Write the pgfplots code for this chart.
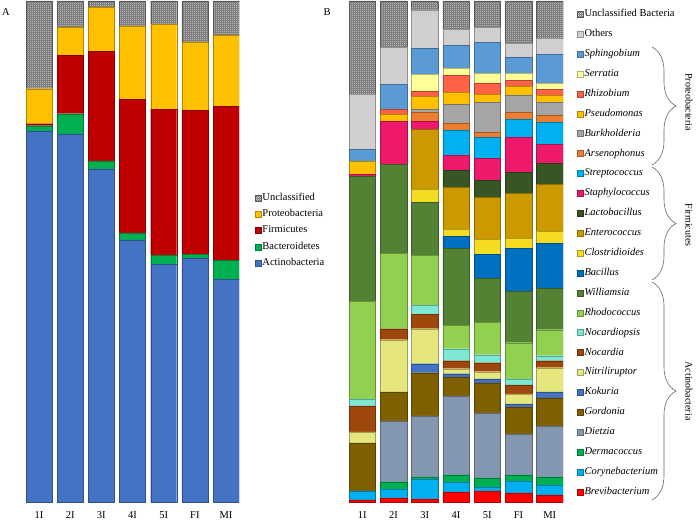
\documentclass[border=0pt]{standalone}
\usepackage{fontspec}
\setmainfont{Liberation Serif}
\usepackage{pgfplots}
\pgfplotsset{compat=1.18}
\usepackage{pgfplotstable}
\usetikzlibrary{patterns,decorations.pathreplacing}

% fine checker for the "unclassified" segments
\pgfdeclarepatternformonly{finecheck}{\pgfpointorigin}{\pgfqpoint{2pt}{2pt}}{\pgfqpoint{2pt}{2pt}}{%
  \pgfpathrectangle{\pgfpointorigin}{\pgfqpoint{1pt}{1pt}}%
  \pgfpathrectangle{\pgfqpoint{1pt}{1pt}}{\pgfqpoint{1pt}{1pt}}%
  \pgfusepath{fill}}

% phylum colours
\definecolor{cAct}{HTML}{4472C4}
\definecolor{cBac}{HTML}{00B050}
\definecolor{cFir}{HTML}{C00000}
\definecolor{cPro}{HTML}{FFC000}
% genus colours
\definecolor{cBrev}{HTML}{FF0000}
\definecolor{cCory}{HTML}{00B0F0}
\definecolor{cDerm}{HTML}{00B050}
\definecolor{cDiet}{HTML}{8497B0}
\definecolor{cGord}{HTML}{7F6000}
\definecolor{cKoku}{HTML}{4472C4}
\definecolor{cNitr}{HTML}{E5E67B}
\definecolor{cNocd}{HTML}{9E480E}
\definecolor{cNocp}{HTML}{7EE8D5}
\definecolor{cRhod}{HTML}{92D050}
\definecolor{cWill}{HTML}{548235}
\definecolor{cBaci}{HTML}{0070C0}
\definecolor{cClos}{HTML}{F4DC22}
\definecolor{cEnte}{HTML}{CC9900}
\definecolor{cLact}{HTML}{375623}
\definecolor{cStap}{HTML}{ED1A6B}
\definecolor{cStrp}{HTML}{00B0F0}
\definecolor{cArse}{HTML}{ED7D31}
\definecolor{cBurk}{HTML}{A5A5A5}
\definecolor{cPseu}{HTML}{FFC000}
\definecolor{cRhiz}{HTML}{FF6347}
\definecolor{cSerr}{HTML}{FFFF99}
\definecolor{cSphi}{HTML}{5B9BD5}
\definecolor{cOthe}{HTML}{D0CECE}

\pgfplotstableread{
x act bac fir pro unc
0 74.1 1.0 0.4 7.0 17.5
1 73.5 4.0 11.6 5.6 5.3
2 66.5 1.6 21.8 8.8 1.3
3 52.3 1.4 26.7 14.6 5.0
4 47.5 1.8 29.1 17.0 4.6
5 48.7 0.8 28.7 13.6 8.2
6 44.5 3.8 30.7 14.2 6.8
}\phylum

\pgfplotstableread{
x brev cory derm diet gord koku nitr nocd nocp rhod will baci clos ente lact stap strp arse burk pseu rhiz serr sphi othe uncl
0 0.4 1.8 0   0    9.6 0   2.2  5.2 1.4 19.4 25.0 0   0   0    0   0.4 0   0   0   2.6 0   0   2.4 11.0 18.6
1 0.8 1.8 1.4 12.2 5.8 0   10.4 2.2 0   15.0 17.8 0   0   0    0   8.6 0   0   0   1.4 1.0 0   5.0 7.4  9.2
2 0.6 4.0 0.4 12.2 8.6 1.8 7.0  2.8 1.8 10.0 10.6 0   2.6 12.0 0   1.6 0   1.8 0.6 2.6 1.0 3.4 5.2 7.6  1.8
3 2.0 2.0 1.4 15.8 3.8 0.6 1.0  1.6 2.4 4.6  15.4 2.4 1.4 8.4  3.4 3.0 5.0 1.4 3.8 2.4 3.4 1.4 4.6 3.2  5.6
4 2.2 0.8 1.8 13.0 6.0 0.8 1.4  1.8 1.6 6.4  8.8  4.8 3.0 8.4  3.4 4.4 4.2 1.0 6.0 1.6 2.2 2.0 6.2 3.0  5.2
5 1.8 2.4 1.2 8.2  5.4 0.6 2.0  1.8 1.2 7.2  10.2 8.6 2.0 9.0  4.2 7.0 3.6 1.4 3.4 1.8 1.2 1.4 3.2 2.8  8.4
6 1.4 2.0 1.6 10.2 5.6 1.2 4.8  1.4 1.0 5.2  8.2  9.0 2.4 9.4  4.2 3.8 4.4 1.4 2.6 1.4 1.2 1.2 5.8 3.2  7.4
}\genus

\pgfplotsset{
  stackbars/.style={
    ybar stacked, scale only axis, height=501pt,
    ymin=0, ymax=100, hide y axis,
    axis x line*=bottom, x axis line style={draw=none},
    xtick={0,...,6}, xticklabels={1I,2I,3I,4I,5I,FI,MI},
    major tick length=0pt, xticklabel style={yshift=-6pt},
    reverse legend, legend cell align=left,
    legend image code/.code={\draw[##1, line width=0.3pt] (0pt,-3pt) rectangle (6pt,3pt);},
  },
  unclass/.style={fill=black!55, draw=black!65, line width=0.3pt,
    postaction={pattern=finecheck, pattern color=black!15}},
}
\newcommand{\seg}[3]{\addplot[fill=#1, draw=#1!70!black, line width=0.3pt] table[x=x,y=#2]{\genus}; \addlegendentry{#3}}

\begin{document}
\begin{tikzpicture}[font=\fontsize{10.5}{12}\selectfont]
\useasboundingbox (0,0) rectangle (696pt,520pt);

% panel A: phyla
\begin{axis}[stackbars, at={(26pt,18pt)}, anchor=south west, width=213pt,
  xmin=-0.417, xmax=6.417, bar width=26pt,
  legend style={at={(1.075,0.542)}, anchor=west, draw=none, fill=none, inner sep=0pt,
    row sep=5.3pt, nodes={inner sep=1pt, text height=7pt, text depth=2pt}}]
\addplot[fill=cAct, draw=cAct!70!black, line width=0.3pt] table[x=x,y=act]{\phylum};
\addlegendentry{Actinobacteria}
\addplot[fill=cBac, draw=cBac!70!black, line width=0.3pt] table[x=x,y=bac]{\phylum};
\addlegendentry{Bacteroidetes}
\addplot[fill=cFir, draw=cFir!70!black, line width=0.3pt] table[x=x,y=fir]{\phylum};
\addlegendentry{Firmicutes}
\addplot[fill=cPro, draw=cPro!70!black, line width=0.3pt] table[x=x,y=pro]{\phylum};
\addlegendentry{Proteobacteria}
\addplot[unclass] table[x=x,y=unc]{\phylum};
\addlegendentry{Unclassified}
\end{axis}

% panel B: genera
\begin{axis}[stackbars, at={(349pt,18pt)}, anchor=south west, width=214pt,
  xmin=-0.424, xmax=6.424, bar width=26.5pt,
  legend style={at={(1.0654,0.497)}, anchor=west, draw=none, fill=none, inner sep=0pt,
    row sep=8.9pt, nodes={inner sep=1pt, text height=7pt, text depth=2pt}}]
\seg{cBrev}{brev}{\textit{Brevibacterium}}
\seg{cCory}{cory}{\textit{Corynebacterium}}
\seg{cDerm}{derm}{\textit{Dermacoccus}}
\seg{cDiet}{diet}{\textit{Dietzia}}
\seg{cGord}{gord}{\textit{Gordonia}}
\seg{cKoku}{koku}{\textit{Kokuria}}
\seg{cNitr}{nitr}{\textit{Nitriliruptor}}
\seg{cNocd}{nocd}{\textit{Nocardia}}
\seg{cNocp}{nocp}{\textit{Nocardiopsis}}
\seg{cRhod}{rhod}{\textit{Rhodococcus}}
\seg{cWill}{will}{\textit{Williamsia}}
\seg{cBaci}{baci}{\textit{Bacillus}}
\seg{cClos}{clos}{\textit{Clostridioides}}
\seg{cEnte}{ente}{\textit{Enterococcus}}
\seg{cLact}{lact}{\textit{Lactobacillus}}
\seg{cStap}{stap}{\textit{Staphylococcus}}
\seg{cStrp}{strp}{\textit{Streptococcus}}
\seg{cArse}{arse}{\textit{Arsenophonus}}
\seg{cBurk}{burk}{\textit{Burkholderia}}
\seg{cPseu}{pseu}{\textit{Pseudomonas}}
\seg{cRhiz}{rhiz}{\textit{Rhizobium}}
\seg{cSerr}{serr}{\textit{Serratia}}
\seg{cSphi}{sphi}{\textit{Sphingobium}}
\seg{cOthe}{othe}{Others}
\addplot[unclass] table[x=x,y=uncl]{\genus};
\addlegendentry{Unclassified Bacteria}
\end{axis}

% panel letters
\node[anchor=base] at (6pt,504pt) {A};
\node[anchor=base] at (327pt,504pt) {B};

% group braces
\begin{scope}[draw=black!60, line width=0.6pt, decoration={brace, amplitude=24pt}]
\draw[decorate] (652pt,473pt) -- (652pt,355pt);
\draw[decorate] (652pt,353pt) -- (652pt,240pt);
\draw[decorate] (652pt,238pt) -- (652pt,20pt);
\end{scope}
\begin{scope}[font=\fontsize{10}{12}\selectfont]
\node[rotate=-90] at (689pt,418pt) {Proteobacteria};
\node[rotate=-90] at (689pt,295pt) {Firmicutes};
\node[rotate=-90] at (689pt,129pt) {Actinobacteria};
\end{scope}
\end{tikzpicture}
\end{document}
